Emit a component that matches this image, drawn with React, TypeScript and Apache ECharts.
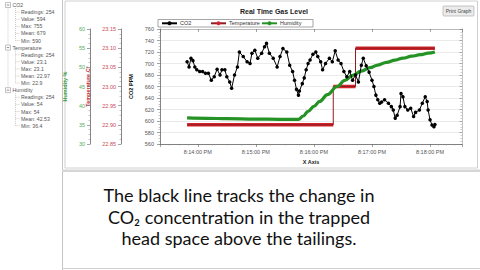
import React, { useEffect, useRef } from 'react';
import * as echarts from 'echarts';

// ---- data (seconds after 8:00:00 PM) ----
const co2Seconds = [829,831,833,835,837,839,842,845,848,851,854,857,860,863,865,868,870,873,875,878,881,883,887,891,894,896,899,902,906,909,911,914,918,922,925,928,932,935,938,940,942,944,945,948,950,952,954,956,959,962,964,967,969,972,976,979,982,985,988,991,994,997,1000,1003,1006,1009,1011,1014,1017,1020,1022,1024,1026,1028,1030,1033,1037,1040,1042,1044,1046,1049,1050,1052,1054,1057,1060,1063,1065,1069,1072,1075,1077,1078,1080,1082,1084,1085];
const co2Values = [703,694,709,705,694,689,686,686,683,683,671,677,690,680,689,689,677,668,657,680,694,720,712,703,700,718,723,709,718,729,735,718,709,694,712,726,720,697,686,671,655,645,652,665,675,689,700,706,716,720,712,703,689,700,709,703,722,706,700,686,677,686,671,680,668,697,709,696,685,671,660,645,637,631,633,637,631,625,619,605,610,625,648,642,625,619,622,608,615,619,631,642,634,619,602,593,590,594];

const tempSeconds = [829, 980, 1003, 1085];
const tempValues = [22.9, 23.0, 23.1, 23.1];

const humSeconds = [829,850,870,900,925,944,949,954,960,966,974,984,992,1000,1009,1018,1026,1035,1044,1052,1061,1070,1078,1085];
const humValues = [36.8,36.7,36.6,36.5,36.45,36.4,37.3,38.5,39.8,41.1,42.9,45.0,46.6,47.9,49.0,49.9,50.6,51.3,51.9,52.4,52.9,53.3,53.7,54.0];

const xMinSeconds = 801;
const xMaxSeconds = 1113;

const seriesNames = ['CO2', 'Temperature', 'Humidity'];
const statLabels = ['Readings', 'Value', 'Max', 'Mean', 'Min'];
const co2Stats = [254, 594, 755, 679, 590];
const tempStats = [254, 23.1, 23.1, 22.97, 22.9];
const humStats = [254, 54, 54, 42.53, 36.4];

const captionLines = [
  'The black line tracks the change in',
  'CO\u2082 concentration in the trapped',
  'head space above the tailings.',
];

const BASE = new Date(2020, 0, 1, 20, 0, 0).getTime();
const toT = (s: number) => BASE + s * 1000;
const pad = (n: number) => (n < 10 ? '0' + n : '' + n);
const fmtTime = (v: number) => {
  const d = new Date(v);
  const h = d.getHours() % 12 || 12;
  return `${h}:${pad(d.getMinutes())}:${pad(d.getSeconds())} ${d.getHours() >= 12 ? 'PM' : 'AM'}`;
};

const FONT = 'Liberation Sans, Arial, sans-serif';
const RED = '#d3242b';
const GREEN = '#259225';

function buildOption() {
  const co2Data = co2Seconds.map((s, i) => [toT(s), co2Values[i]]);
  const humData = humSeconds.map((s, i) => [toT(s), humValues[i]]);
  const tempStep = tempSeconds.map((s, i) => [toT(s), tempValues[i]]);
  const tempBand: any[] = [];
  for (let i = 0; i < tempSeconds.length - 1; i++) {
    if (tempSeconds[i + 1] === tempSeconds[i]) continue;
    tempBand.push([toT(tempSeconds[i]), tempValues[i]]);
    tempBand.push([toT(tempSeconds[i + 1]), tempValues[i]]);
    tempBand.push([toT(tempSeconds[i + 1]), null]);
  }

  // tree panel
  const groups = [
    { name: seriesNames[0], stats: co2Stats },
    { name: seriesNames[1], stats: tempStats },
    { name: seriesNames[2], stats: humStats },
  ];
  const rowH = 7.1;
  const row0 = 5;
  const tree: any[] = [];
  const txt = (x: number, y: number, text: string, size = 5.2, fill = '#555', extra: any = {}) => ({
    type: 'text', x, y, silent: true,
    style: { text, fill, fontSize: size, fontFamily: FONT, align: 'left', verticalAlign: 'middle', textAlign: 'left', textVerticalAlign: 'middle', ...extra },
  });
  tree.push({ type: 'line', silent: true, shape: { x1: 8, y1: row0 + 2.5, x2: 8, y2: row0 + 12 * rowH - 2.5 }, style: { stroke: '#aaa', lineWidth: 0.6, lineDash: [1, 1] } });
  groups.forEach((g, gi) => {
    const hy = row0 + gi * 6 * rowH;
    tree.push({ type: 'rect', silent: true, shape: { x: 5.5, y: hy - 2.5, width: 5, height: 5 }, style: { fill: '#fff', stroke: '#999', lineWidth: 0.6 } });
    tree.push({ type: 'line', silent: true, shape: { x1: 6.7, y1: hy, x2: 9.3, y2: hy }, style: { stroke: '#444', lineWidth: 0.6 } });
    tree.push(txt(12.5, hy, g.name));
    const lastY = hy + statLabels.length * rowH;
    tree.push({ type: 'line', silent: true, shape: { x1: 15.5, y1: hy + 3, x2: 15.5, y2: lastY }, style: { stroke: '#aaa', lineWidth: 0.6, lineDash: [1, 1] } });
    g.stats.forEach((v, i) => {
      const cy = hy + (i + 1) * rowH;
      tree.push({ type: 'line', silent: true, shape: { x1: 15.5, y1: cy, x2: 20, y2: cy }, style: { stroke: '#aaa', lineWidth: 0.6, lineDash: [1, 1] } });
      tree.push(txt(21, cy, `${statLabels[i]}: ${v}`));
    });
  });

  const frame: any[] = [
    { type: 'line', silent: true, shape: { x1: 62.5, y1: 0, x2: 62.5, y2: 270 }, style: { stroke: '#c4c4c4', lineWidth: 1 } },
    { type: 'rect', silent: true, shape: { x: 65, y: 1, width: 412.5, height: 167 }, style: { fill: 'none', stroke: '#d0d0d0', lineWidth: 1 } },
    { type: 'rect', silent: true, shape: { x: 62, y: 169.5, width: 418, height: 2.5 }, style: { fill: '#d6d6d6' } },
    { type: 'line', silent: true, shape: { x1: 62, y1: 268.5, x2: 480, y2: 268.5 }, style: { stroke: '#d0d0d0', lineWidth: 1 } },
    { type: 'rect', silent: true, shape: { x: 158, y: 19.5, width: 155, height: 7.5 }, style: { fill: 'none', stroke: '#808080', lineWidth: 0.7 } },
    { type: 'rect', silent: true, shape: { x: 443, y: 6, width: 31, height: 10, r: 1 }, style: { fill: '#ececec', stroke: '#b0b0b0', lineWidth: 0.7 } },
    { type: 'text', silent: true, x: 458.5, y: 11, style: { text: 'Print Graph', fill: '#444', fontSize: 5, fontFamily: FONT, align: 'center', verticalAlign: 'middle', textAlign: 'center', textVerticalAlign: 'middle' } },
  ];

  const caption = captionLines.map((line, i) => ({
    type: 'text', silent: true, x: 239, y: 195 + i * 21.5,
    style: { text: line, fill: '#111', fontSize: 18, fontFamily: 'Lato, sans-serif', align: 'center', verticalAlign: 'middle', textAlign: 'center', textVerticalAlign: 'middle' },
  }));

  const legendBase = (left: number, name: string) => ({
    left, top: 20.3, data: [name], itemWidth: 15, itemHeight: 5, padding: 0, itemGap: 0,
    textStyle: { fontSize: 5.5, color: '#333', fontFamily: FONT, padding: [0, 0, 0, -2] },
    selectedMode: false,
  });

  const yBase = (extra: any) => ({
    type: 'value', position: 'left',
    axisLine: { show: true, lineStyle: { color: '#666', width: 0.8 } },
    axisTick: { show: true, inside: false, length: 3, lineStyle: { color: '#666', width: 0.6 } },
    minorTick: { show: true, splitNumber: 4, length: 1.5, lineStyle: { color: '#888', width: 0.5 } },
    splitLine: { show: false },
    nameLocation: 'middle',
    ...extra,
  });

  return {
    animation: false,
    backgroundColor: '#fff',
    title: {
      text: 'Real Time Gas Level', left: 240, top: 8, padding: 0,
      textStyle: { fontSize: 7, fontWeight: 'bold', color: '#222', fontFamily: FONT },
    },
    legend: [legendBase(161, seriesNames[0]), legendBase(210, seriesNames[1]), legendBase(261, seriesNames[2])],
    grid: { left: 160, right: 18, top: 29, bottom: 126, outerBoundsMode: 'none', containLabel: false },
    xAxis: [
      {
        type: 'time', min: toT(xMinSeconds), max: toT(xMaxSeconds),
        minInterval: 60000, maxInterval: 60000,
        name: 'X Axis', nameLocation: 'middle', nameGap: 15,
        nameTextStyle: { fontSize: 5.5, fontWeight: 'bold', color: '#222', fontFamily: FONT },
        axisLine: { show: true, lineStyle: { color: '#666', width: 0.8 } },
        axisTick: { show: true, length: 3, lineStyle: { color: '#666', width: 0.6 } },
        minorTick: { show: true, splitNumber: 4, length: 1.5, lineStyle: { color: '#888', width: 0.5 } },
        axisLabel: { fontSize: 5.5, color: '#555', fontFamily: FONT, margin: 5, showMinLabel: false, showMaxLabel: false, formatter: (v: number) => fmtTime(v), hideOverlap: false },
        splitLine: { show: false },
      },
      {
        type: 'time', position: 'top', min: toT(xMinSeconds), max: toT(xMaxSeconds),
        minInterval: 60000, maxInterval: 60000,
        axisLine: { show: true, lineStyle: { color: '#999', width: 0.6 } },
        axisTick: { show: true, inside: true, length: 3, lineStyle: { color: '#666', width: 0.6 } },
        axisLabel: { show: false },
        splitLine: { show: false },
      },
    ],
    yAxis: [
      yBase({
        min: 560, max: 760, interval: 20, offset: 0,
        name: 'CO2 PPM', nameGap: 23,
        nameTextStyle: { fontSize: 5.5, fontWeight: 'bold', color: '#111', fontFamily: FONT },
        axisLabel: { fontSize: 5.5, color: '#555', fontFamily: FONT, margin: 6 },
        splitLine: { show: true, lineStyle: { color: '#e4e4e4', width: 0.8 } },
      }),
      yBase({
        min: 22.85, max: 23.15, interval: 0.05, offset: 39,
        name: 'Temperature C\u00b0', nameGap: 21,
        nameTextStyle: { fontSize: 5.5, fontWeight: 'bold', color: '#c8282f', fontFamily: FONT },
        axisLabel: { fontSize: 5.5, color: '#cc4a55', fontFamily: FONT, margin: 5, formatter: (v: number) => v.toFixed(2) },
      }),
      yBase({
        min: 30, max: 60, interval: 5, offset: 70,
        name: 'Humidity %', nameGap: 17,
        nameTextStyle: { fontSize: 5.5, fontWeight: 'bold', color: '#3a9a3a', fontFamily: FONT },
        axisLabel: { fontSize: 5.5, color: '#5aaa5a', fontFamily: FONT, margin: 5 },
      }),
      {
        type: 'value', position: 'right', min: 560, max: 760, interval: 20,
        axisLine: { show: true, lineStyle: { color: '#999', width: 0.6 } },
        axisTick: { show: true, inside: true, length: 2.5, lineStyle: { color: '#777', width: 0.6 } },
        minorTick: { show: true, splitNumber: 4, length: 1.5, lineStyle: { color: '#999', width: 0.5 } },
        axisLabel: { show: false },
        splitLine: { show: false },
      },
    ],
    series: [
      {
        name: 'TemperatureBand', type: 'line', yAxisIndex: 1, data: tempBand,
        symbol: 'none', connectNulls: false, z: 2,
        lineStyle: { color: RED, width: 3.5, cap: 'butt' },
      },
      {
        name: seriesNames[1], type: 'line', yAxisIndex: 1, data: tempStep, step: 'end',
        symbol: 'circle', symbolSize: 3.5, showSymbol: false, z: 2,
        lineStyle: { color: '#8e1c22', width: 1 }, itemStyle: { color: RED },
      },
      {
        name: seriesNames[2], type: 'line', yAxisIndex: 2, data: humData,
        smooth: 0.4, smoothMonotone: 'x', symbol: 'circle', symbolSize: 3.5, showSymbol: false, z: 3,
        lineStyle: { color: GREEN, width: 3.2 }, itemStyle: { color: GREEN },
      },
      {
        name: seriesNames[0], type: 'line', yAxisIndex: 0, data: co2Data,
        symbol: 'circle', symbolSize: 3.5, showSymbol: true, z: 4,
        lineStyle: { color: '#000', width: 1 }, itemStyle: { color: '#000' },
      },
    ],
    graphic: [...frame, ...tree, ...caption],
  };
}

export default function App() {
  const ref = useRef<HTMLDivElement>(null);
  useEffect(() => {
    if (!ref.current) return;
    const chart = echarts.init(ref.current, null, { renderer: 'svg' });
    chart.setOption(buildOption() as any);
    return () => chart.dispose();
  }, []);
  return (
    <div
      ref={ref}
      style={{ position: 'fixed', left: 0, top: 0, width: 480, height: 270, background: '#fff' }}
    />
  );
}
